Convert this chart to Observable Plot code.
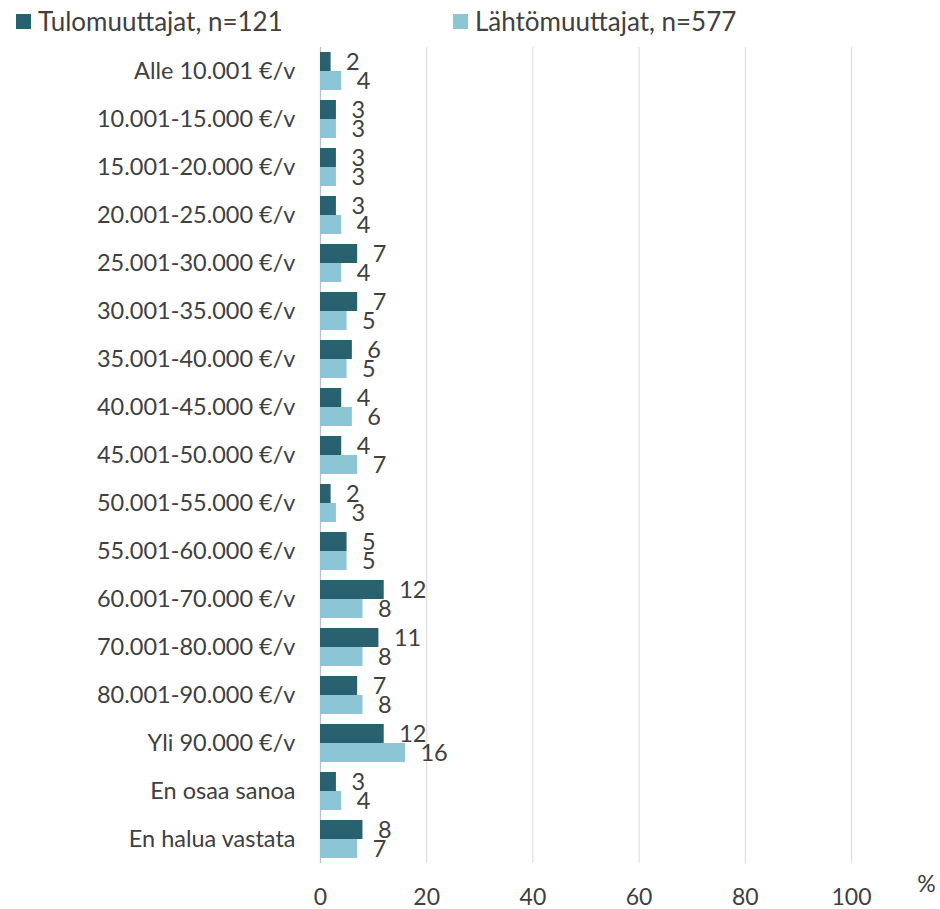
<!DOCTYPE html>
<html>
<head>
<meta charset="utf-8">
<script src="https://cdn.jsdelivr.net/npm/d3@7"></script>
<script src="https://cdn.jsdelivr.net/npm/@observablehq/plot@0.6"></script>
<style>
  html, body { margin: 0; padding: 0; background: #fff; }
  body { width: 940px; height: 909px; overflow: hidden; font-family: Lato, sans-serif; }
  #legend { position: relative; height: 40px; width: 940px; }
  .item { position: absolute; top: 0; height: 42px; display: flex; align-items: center; font-size: 26px; color: #404040; white-space: nowrap; }
  .sw { width: 15px; height: 15px; margin-right: 7px; }
</style>
</head>
<body>
<div id="legend"></div>
<div id="chart"></div>
<script>
const categories = [
  "Alle 10.001 €/v", "10.001-15.000 €/v", "15.001-20.000 €/v", "20.001-25.000 €/v",
  "25.001-30.000 €/v", "30.001-35.000 €/v", "35.001-40.000 €/v", "40.001-45.000 €/v",
  "45.001-50.000 €/v", "50.001-55.000 €/v", "55.001-60.000 €/v", "60.001-70.000 €/v",
  "70.001-80.000 €/v", "80.001-90.000 €/v", "Yli 90.000 €/v", "En osaa sanoa", "En halua vastata"
];
const seriesNames = ["Tulomuuttajat, n=121", "Lähtömuuttajat, n=577"];
const tulomuuttajat = [2, 3, 3, 3, 7, 7, 6, 4, 4, 2, 5, 12, 11, 7, 12, 3, 8];
const lahtomuuttajat = [4, 3, 3, 4, 4, 5, 5, 6, 7, 3, 5, 8, 8, 8, 16, 4, 7];
const xTicks = [0, 20, 40, 60, 80, 100];
const colors = ["#29626e", "#8cc6d4"];

const data = [];
categories.forEach((c, i) => {
  data.push({cat: c, series: seriesNames[0], value: tulomuuttajat[i]});
  data.push({cat: c, series: seriesNames[1], value: lahtomuuttajat[i]});
});

// legend
const legend = document.getElementById("legend");
const legendLeft = [16, 453];
seriesNames.forEach((s, i) => {
  const it = document.createElement("div");
  it.className = "item";
  it.style.left = legendLeft[i] + "px";
  const sw = document.createElement("div");
  sw.className = "sw";
  sw.style.background = colors[i];
  it.appendChild(sw);
  const t = document.createElement("span");
  t.textContent = s;
  it.appendChild(t);
  legend.appendChild(it);
});

const chart = Plot.plot({
  width: 940,
  height: 869,
  marginLeft: 320,
  marginRight: 89,
  marginTop: 7,
  marginBottom: 46,
  style: {fontFamily: "Lato, sans-serif", color: "#404040", background: "#fff"},
  x: {domain: [0, 100], ticks: xTicks},
  y: {domain: seriesNames, paddingOuter: 0.25, paddingInner: 0, axis: null},
  fy: {domain: categories, padding: 0},
  color: {domain: seriesNames, range: colors},
  marks: [
    Plot.ruleX(xTicks.filter(d => d > 0), {stroke: "#d9d9d9", strokeWidth: 1}),
    Plot.ruleX([0], {stroke: "#bfbfbf", strokeWidth: 1.3}),
    Plot.barX(data, {fy: "cat", y: "series", x: "value", fill: "series", insetTop: 0, insetBottom: 0}),
    Plot.text(data, {fy: "cat", y: "series", x: "value", text: d => String(d.value), dx: 15, textAnchor: "start", fill: "#404040", fontSize: 23.5}),
    Plot.axisFy({anchor: "left", tickSize: 0, tickPadding: 25, label: null, fontSize: 23.5}),
    Plot.axisX({anchor: "bottom", ticks: xTicks, tickSize: 0, tickPadding: 25, label: null, fontSize: 23, facetAnchor: "bottom"}),
    Plot.text(["%"], {frameAnchor: "bottom-right", dx: 75, dy: 28, textAnchor: "middle", fill: "#404040", fontSize: 23, facetAnchor: "bottom"})
  ]
});
document.getElementById("chart").appendChild(chart);
</script>
</body>
</html>
